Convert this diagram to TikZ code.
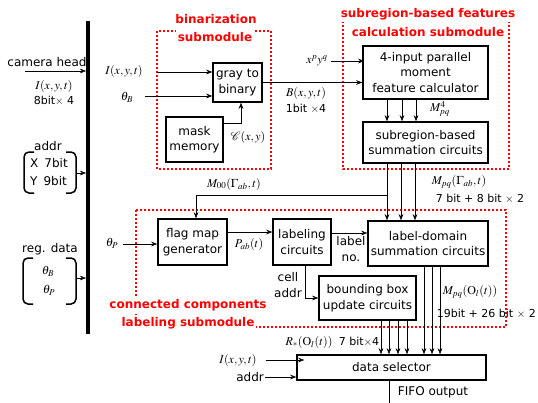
\documentclass[tikz,border=0pt]{standalone}
\usepackage{mathptmx}
\usepackage{fontspec}
\setmainfont{DejaVu Sans}
\usetikzlibrary{arrows.meta}

\begin{document}
\begin{tikzpicture}[x=1pt,y=-1pt,font=\fontsize{12}{15.5}\selectfont,
  >={Stealth[length=6pt,width=4.5pt]},
  blk/.style={draw,line width=1.5pt,align=center,inner sep=0pt},
  lbl/.style={inner sep=1pt,align=center},
  bits/.style={lbl,font=\fontsize{11}{13}\selectfont},
  brk/.style={line width=1.5pt,rounded corners=5pt},
  sub/.style={draw=subred,line width=1.8pt,dash pattern=on 1.8pt off 2.2pt},
  ttl/.style={fill=white,text=subred,font=\fontsize{12}{15}\selectfont\bfseries,inner xsep=1.5pt,inner ysep=2pt}]
\definecolor{subred}{HTML}{FF0000}
\useasboundingbox (0,0) rectangle (538,402);
% submodule frames
\draw[sub] (157,31) rectangle (271,169);
\node[ttl] (binA) at (216,19) {binarization};
\node[ttl] (binB) at (215,37) {submodule};
\draw[sub] (343,21) rectangle (509,169);
\node[ttl] (subA) at (428,14) {subregion-based features};
\node[ttl] (subB) at (428,32) {calculation submodule};
\draw[sub] (136,210) rectangle (506,327);
\node[ttl] (ccA) at (188,305) {connected components};
\node[ttl] (ccB) at (188,323) {labeling submodule};
% bus and inputs
\draw[line width=4pt] (88,21) -- (88,334);
\coordinate (busL) at (86,21);
\node[lbl] (camhd) at (47,62) {camera head};
\coordinate (camin) at (25,71);
\draw[->] (camin) -- (camin -| busL);
\node[lbl] (camI) at (54,86) {$I(x,y,t)$};
\node[bits] (cambit) at (54,101) {8bit$\times$ 4};
\node[lbl] (addrhd) at (48,146) {addr};
\draw[brk] (34,152) -- (24,152) -- (24,193) -- (34,193);
\draw[brk] (66,152) -- (76,152) -- (76,193) -- (66,193);
\node[lbl,anchor=west] (addrx) at (29,163) {X\hspace{6pt}7bit};
\node[lbl,anchor=west] (addry) at (29,181) {Y\hspace{6pt}9bit};
\coordinate (addrout) at (77,173);
\draw[->] (addrout) -- (addrout -| busL);
\node[lbl] (reghd) at (50,249) {reg. data};
\draw[brk] (33,258) -- (23,258) -- (23,304) -- (33,304);
\draw[brk] (66,258) -- (76,258) -- (76,304) -- (66,304);
\node[lbl] (regB) at (48,271) {$\theta_B$};
\node[lbl] (regP) at (49,290) {$\theta_P$};
\coordinate (regout) at (77,278);
\draw[->] (regout) -- (regout -| busL);
% blocks
\node[blk,minimum width=49pt,minimum height=39pt] (gray) at (237.5,82.5) {gray to\\binary};
\node[blk,minimum width=57pt,minimum height=45pt] (mask) at (194.5,139.5) {mask\\memory};
\node[blk,minimum width=125pt,minimum height=53pt] (moment) at (425.5,72.5) {4-input parallel\\moment\\feature calculator};
\node[blk,minimum width=125pt,minimum height=41pt] (subsum) at (425.5,142.5) {subregion-based\\summation circuits};
\node[blk,minimum width=69pt,minimum height=46pt] (flag) at (192.5,242) {flag map\\generator};
\node[blk,minimum width=58pt,minimum height=46pt] (labl) at (302,242) {labeling\\circuits};
\node[blk,minimum width=120pt,minimum height=45pt] (ldom) at (428,243.5) {label-domain\\summation circuits};
\node[blk,minimum width=97pt,minimum height=44pt] (bbox) at (367.5,298) {bounding box\\update circuits};
\node[blk,minimum width=189pt,minimum height=25pt] (dsel) at (391.5,367.5) {data selector};
% binarization
\node[lbl] (grayI) at (124,71) {$I(x,y,t)$};
\coordinate (grayIin) at (157,72);
\draw[->] (grayIin) -- (grayIin -| gray.west);
\node[lbl] (grayT) at (127,97) {$\theta_B$};
\coordinate (grayTin) at (145,96);
\draw[->] (grayTin) -- (grayTin -| gray.west);
\draw[->] ([yshift=16.5pt]mask.east) -| ([xshift=3.5pt]gray.south);
\node[lbl] (maskC) at (248,137) {$\mathcal{C}(x,y)$};
\draw[->] (gray.east) -- (gray.east -| moment.west);
\node[lbl] (grayB) at (306,93) {$B(x,y,t)$};
\node[bits] (graybit) at (306,109) {1bit $\times$4};
% features
\node[lbl] (xy) at (317,61) {$x^py^q$};
\draw[->] ([xshift=2pt]xy.east) -- ([xshift=2pt]xy.east -| moment.west);
\foreach \x in {387,402,416}
  \draw[->] (\x,0 |- moment.south) -- (\x,0 |- subsum.north);
\node[lbl] (mfour) at (440,109) {$M^4_{pq}$};
\foreach \x in {387,401,415}
  \draw[->] (\x,0 |- subsum.south) -- (\x,0 |- ldom.north);
\node[lbl] (mgam) at (459,182) {$M_{pq}(\Gamma_{ab},t)$};
\node[bits] (mgambit) at (480,199) {7 bit + 8 bit $\times$ 2};
\coordinate (mzero) at (387,195);
\draw[->] (mzero) -| ([xshift=3.5pt]flag.north);
\node[lbl] (mzerolbl) at (234,184) {$M_{00}(\Gamma_{ab},t)$};
% labeling
\node[lbl] (flagT) at (112,243) {$\theta_P$};
\coordinate (flagTin) at (123,244);
\draw[->] (flagTin) -- (flagTin -| flag.west);
\draw[->] ([yshift=10pt]flag.east) -- ([yshift=10pt]flag.east -| labl.west);
\node[lbl] (pab) at (249,244) {$P_{ab}(t)$};
\draw[->] ([yshift=9pt]labl.east) -- ([yshift=9pt]labl.east -| ldom.west);
\node[lbl] (labno) at (351,249) {label\\no.};
\draw[->] ([xshift=3pt]labl.south) |- (bbox.west);
\node[lbl] (celladdr) at (288,285) {cell\\addr};
% selector
\foreach \x in {381,389,398,407}
  \draw[->] (\x,0 |- bbox.south) -- (\x,0 |- dsel.north);
\foreach \x in {424,432,440}
  \draw[->] (\x,0 |- ldom.south) -- (\x,0 |- dsel.north);
\node[lbl] (mol) at (470,292) {$M_{pq}(\mathrm{O}_l(t))$};
\node[bits,anchor=east] (molbit) at (537,314) {19bit + 26 bit $\times$ 2};
\node[lbl] (rol) at (309,342) {$R_*(\mathrm{O}_l(t))$};
\node[bits] (rolbit) at (359,342) {7 bit$\times$4};
\node[lbl] (selI) at (238,360) {$I(x,y,t)$};
\draw[->] ([xshift=8pt]selI.east) -- ([xshift=8pt]selI.east -| dsel.west);
\node[lbl,anchor=east] (seladdr) at (265,377) {addr};
\draw[->] (seladdr.east) -- (seladdr.east -| dsel.west);
\draw ([xshift=-2.5pt]dsel.south) -- ++(0,22);
\node[lbl] (fifo) at (433,392) {FIFO output};
\end{tikzpicture}
\end{document}
